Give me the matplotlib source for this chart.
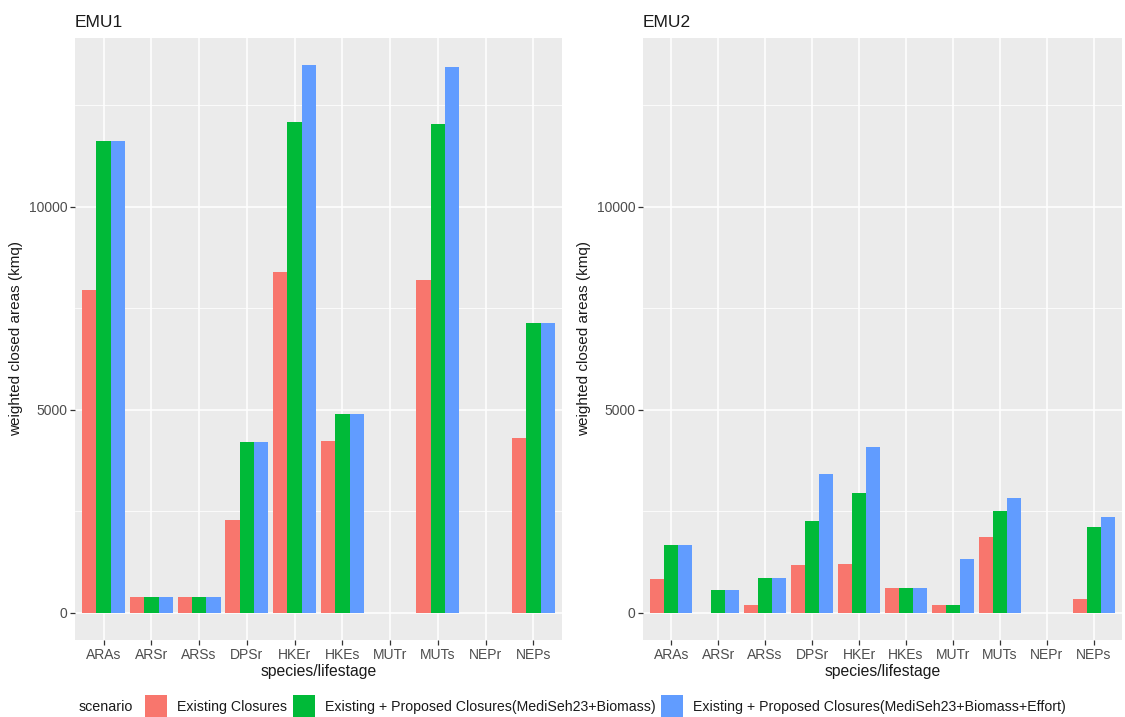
import matplotlib
matplotlib.use("Agg")
import matplotlib.pyplot as plt
import numpy as np
from matplotlib.patches import Rectangle

plt.rcParams['font.family'] = ['Liberation Sans', 'DejaVu Sans']

categories = ["ARAs", "ARSr", "ARSs", "DPSr", "HKEr", "HKEs", "MUTr", "MUTs", "NEPr", "NEPs"]
scenarios = ["Existing Closures",
             "Existing + Proposed Closures(MediSeh23+Biomass)",
             "Existing + Proposed Closures(MediSeh23+Biomass+Effort)"]
colors = ["#F8766D", "#00BA38", "#619CFF"]

emu1_existing = [7945, 380, 380, 2294, 8398, 4240, 0, 8209, 0, 4307]
emu1_biomass = [11633, 380, 380, 4200, 12086, 4908, 0, 12045, 0, 7128]
emu1_effort = [11633, 380, 380, 4200, 13489, 4908, 0, 13447, 0, 7128]

emu2_existing = [817, 0, 198, 1163, 1205, 619, 182, 1873, 0, 338]
emu2_biomass = [1666, 561, 858, 2260, 2937, 619, 182, 2500, 0, 2112]
emu2_effort = [1666, 561, 858, 3407, 4092, 619, 1328, 2830, 0, 2359]

panels = [("EMU1", [emu1_existing, emu1_biomass, emu1_effort]),
          ("EMU2", [emu2_existing, emu2_biomass, emu2_effort])]

W, H = 1125, 717
fig = plt.figure(figsize=(W / 100, H / 100), dpi=100)
fig.patch.set_facecolor("white")

def px_axes(x0, x1, y0, y1):
    return fig.add_axes([x0 / W, 1 - y1 / H, (x1 - x0) / W, (y1 - y0) / H])

axes_px = [(75, 562), (643, 1122)]
ymax_data = max(max(emu1_effort), max(emu2_effort))
ylo, yhi = -0.05 * ymax_data, 1.05 * ymax_data

for (title, series), (x0, x1) in zip(panels, axes_px):
    ax = px_axes(x0, x1, 38, 640)
    ax.set_facecolor("#EBEBEB")
    x = np.arange(1, len(categories) + 1)
    bw = 0.3
    for i, (vals, col) in enumerate(zip(series, colors)):
        ax.bar(x + (i - 1) * bw, vals, width=bw, color=col, linewidth=0, zorder=3)
    ax.set_xlim(0.4, len(categories) + 0.6)
    ax.set_ylim(ylo, yhi)
    ax.set_xticks(x)
    ax.set_xticklabels(categories)
    ax.set_yticks([0, 5000, 10000])
    ax.set_yticks([2500, 7500, 12500], minor=True)
    ax.grid(True, which="major", color="white", linewidth=1.1, zorder=0)
    ax.grid(True, which="minor", axis="y", color="white", linewidth=0.55, zorder=0)
    ax.set_axisbelow(True)
    for s in ax.spines.values():
        s.set_visible(False)
    ax.tick_params(axis="both", which="major", length=3.5, width=0.9, color="#333333",
                   labelcolor="#4D4D4D", labelsize=10, pad=2)
    ax.tick_params(axis="both", which="minor", length=0)
    ax.set_title(title, loc="left", fontsize=12.5, color="#1A1A1A", pad=8)
    ax.set_xlabel("species/lifestage", fontsize=11.3, color="#1A1A1A", labelpad=2)
    ax.set_ylabel("weighted closed areas (kmq)", fontsize=11, color="#1A1A1A", labelpad=4)

# legend
ly = 707
fig.text(79 / W, 1 - ly / H, "scenario", fontsize=10.3, color="#1A1A1A", va="center", ha="left")
key_x = [145, 293, 661]
for kx, col, lab in zip(key_x, colors, scenarios):
    fig.patches.append(Rectangle((kx / W, 1 - 717 / H), 22 / W, 22 / H,
                                 transform=fig.transFigure, facecolor=col, edgecolor="none"))
    fig.text((kx + 32) / W, 1 - ly / H, lab, fontsize=10.2, color="#1A1A1A", va="center", ha="left")

fig.savefig("out.png", dpi=100)
